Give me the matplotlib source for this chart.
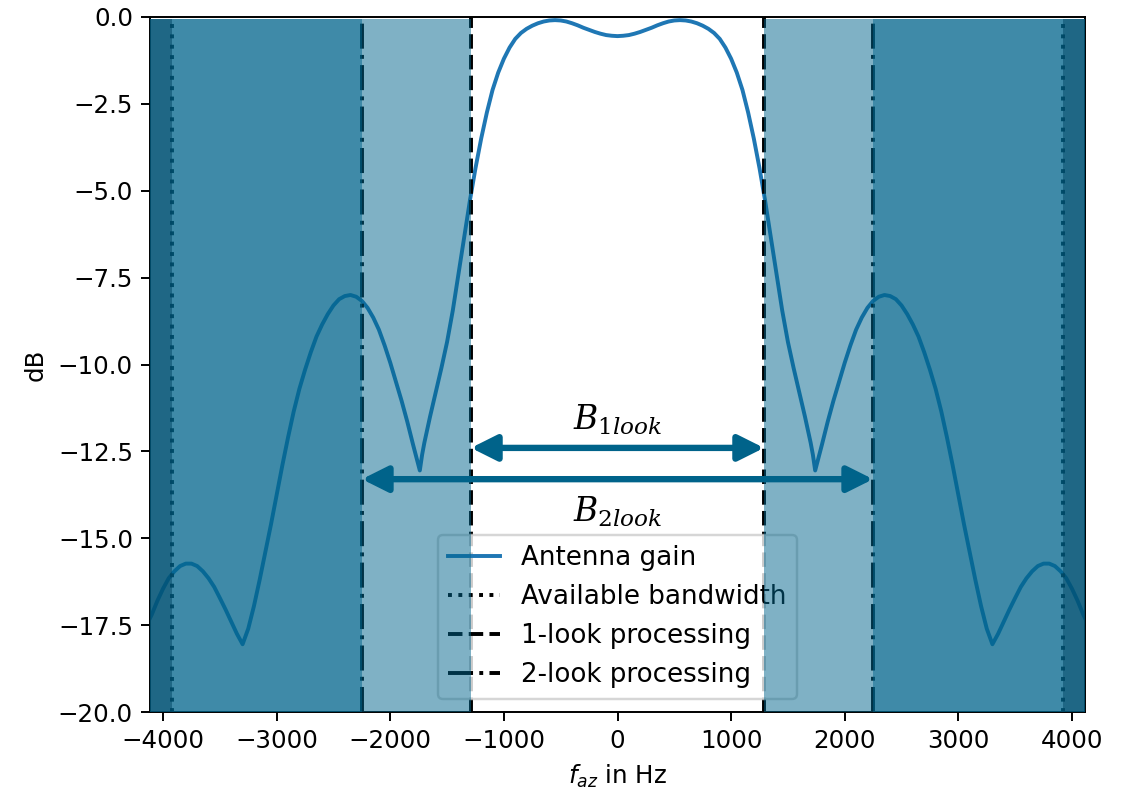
import matplotlib.pyplot as plt

# antenna gain, left half (Hz, dB)
freq_left = [-4115, -4100, -4050, -4000, -3950, -3900, -3850, -3800, -3750, -3700,
             -3650, -3600, -3550, -3500, -3450, -3400, -3350, -3300, -3250, -3200,
             -3150, -3100, -3050, -3000, -2950, -2900, -2850, -2800, -2750, -2700,
             -2650, -2600, -2550, -2500, -2450, -2400, -2350, -2300, -2250, -2200,
             -2150, -2100, -2050, -2000, -1950, -1900, -1850, -1800, -1760, -1740,
             -1720, -1700, -1650, -1600, -1550, -1500, -1450, -1400, -1350, -1300,
             -1250, -1200, -1150, -1100, -1050, -1000, -950, -900, -850, -800,
             -750, -700, -650, -600, -550, -500, -450, -400, -350, -300,
             -250, -200, -150, -100, -50]
gain_left = [-17.3, -17.2, -16.8, -16.45, -16.15, -15.95, -15.8, -15.73, -15.73, -15.8,
             -15.95, -16.15, -16.4, -16.72, -17.05, -17.4, -17.75, -18.05, -17.6, -16.95,
             -16.2, -15.4, -14.6, -13.75, -12.9, -12.1, -11.35, -10.7, -10.15, -9.65,
             -9.2, -8.85, -8.55, -8.3, -8.12, -8.03, -8.0, -8.05, -8.17, -8.37,
             -8.65, -9.0, -9.45, -9.95, -10.5, -11.05, -11.65, -12.3, -12.8, -13.05,
             -12.6, -12.25, -11.5, -10.8, -10.1, -9.35, -8.45, -7.4, -6.35, -5.3,
             -4.35, -3.5, -2.75, -2.1, -1.6, -1.2, -0.88, -0.63, -0.46, -0.34,
             -0.25, -0.18, -0.13, -0.10, -0.09, -0.10, -0.13, -0.18, -0.24, -0.31,
             -0.37, -0.43, -0.48, -0.52, -0.54]

# right half, including the centre
freq_right = [0, 50, 100, 150, 200, 250, 300, 350, 400, 450,
              500, 550, 600, 650, 700, 750, 800, 850, 900, 950,
              1000, 1050, 1100, 1150, 1200, 1250, 1300, 1350, 1400, 1450,
              1500, 1550, 1600, 1650, 1700, 1720, 1740, 1760, 1800, 1850,
              1900, 1950, 2000, 2050, 2100, 2150, 2200, 2250, 2300, 2350,
              2400, 2450, 2500, 2550, 2600, 2650, 2700, 2750, 2800, 2850,
              2900, 2950, 3000, 3050, 3100, 3150, 3200, 3250, 3300, 3350,
              3400, 3450, 3500, 3550, 3600, 3650, 3700, 3750, 3800, 3850,
              3900, 3950, 4000, 4050, 4100, 4115]
gain_right = [-0.55, -0.54, -0.52, -0.48, -0.43, -0.37, -0.31, -0.24, -0.18, -0.13,
              -0.10, -0.09, -0.10, -0.13, -0.18, -0.25, -0.34, -0.46, -0.63, -0.88,
              -1.2, -1.6, -2.1, -2.75, -3.5, -4.35, -5.3, -6.35, -7.4, -8.45,
              -9.35, -10.1, -10.8, -11.5, -12.25, -12.6, -13.05, -12.8, -12.3, -11.65,
              -11.05, -10.5, -9.95, -9.45, -9.0, -8.65, -8.37, -8.17, -8.05, -8.0,
              -8.03, -8.12, -8.3, -8.55, -8.85, -9.2, -9.65, -10.15, -10.7, -11.35,
              -12.1, -12.9, -13.75, -14.6, -15.4, -16.2, -16.95, -17.6, -18.05, -17.75,
              -17.4, -17.05, -16.72, -16.4, -16.15, -15.95, -15.8, -15.73, -15.73, -15.8,
              -15.95, -16.15, -16.45, -16.8, -17.2, -17.3]

f_max = 4115
b_avail = 3922
b_1look = 1290
b_2look = 2250

fig = plt.figure(figsize=(1127 / 176, 792 / 176), dpi=176)
ax = fig.add_axes([150 / 1127, 80 / 792, 935 / 1127, 695 / 792])

ax.plot(freq_left + freq_right, gain_left + gain_right, color='#1f77b4', lw=1.6,
        label='Antenna gain')
ax.axvline(-b_avail, color='k', ls=':', lw=1.6, label='Available bandwidth')
ax.axvline(b_avail, color='k', ls=':', lw=1.6)
ax.axvline(-b_1look, color='k', ls='--', lw=1.6, label='1-look processing')
ax.axvline(b_1look, color='k', ls='--', lw=1.6)
ax.axvline(-b_2look, color='k', ls='-.', lw=1.6, label='2-look processing')
ax.axvline(b_2look, color='k', ls='-.', lw=1.6)

ax.legend(loc='lower center', fontsize=10.7)

# shaded bands outside each processed bandwidth, drawn above the legend
top = 0.9965
for lo, hi, c in [(b_1look, f_max, '#00658c'), (b_2look, f_max, '#00658c'),
                  (b_avail, f_max, '#004664')]:
    ax.axvspan(-hi, -lo, ymax=top, color=c, alpha=0.5, lw=0, zorder=6)
    ax.axvspan(lo, hi, ymax=top, color=c, alpha=0.5, lw=0, zorder=6)

arrow = dict(arrowstyle='<|-|>', color='#00638a', lw=2.6, mutation_scale=22,
             shrinkA=0, shrinkB=0)
ax.annotate('', xy=(-b_1look, -12.4), xytext=(b_1look, -12.4), arrowprops=arrow, zorder=8)
ax.annotate('', xy=(-b_2look, -13.3), xytext=(b_2look, -13.3), arrowprops=arrow, zorder=8)
ax.text(0, -11.6, r'$B_{1look}$', ha='center', va='center', fontsize=13.5,
        math_fontfamily='dejavuserif', zorder=8)
ax.text(0, -14.25, r'$B_{2look}$', ha='center', va='center', fontsize=13.5,
        math_fontfamily='dejavuserif', zorder=8)

ax.set_xlim(-f_max, f_max)
ax.set_ylim(-20, 0)
ax.set_xlabel(r'$f_{az}$ in Hz')
ax.set_ylabel('dB')

fig.savefig('out.png', dpi=176)
